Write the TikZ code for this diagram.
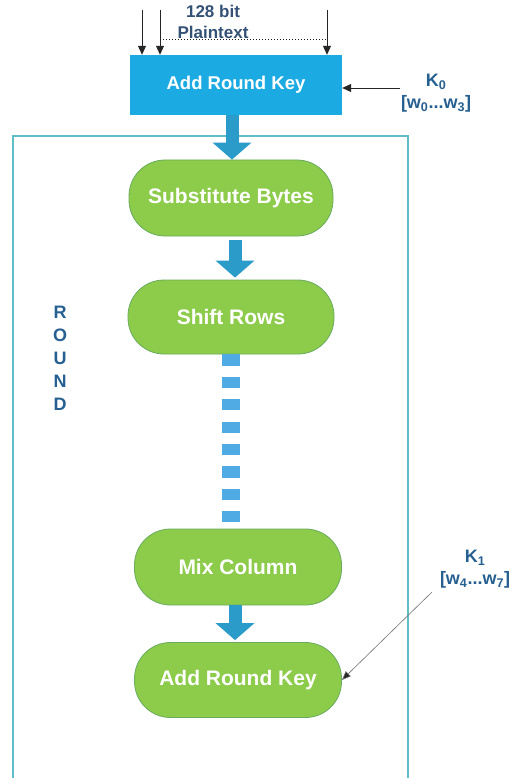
\documentclass[tikz,border=0pt]{standalone}
\usepackage{fontspec}
\setmainfont{Liberation Sans}
\usetikzlibrary{arrows.meta,calc}
\definecolor{boxblue}{RGB}{27,170,226}
\definecolor{flowgreen}{RGB}{141,203,74}
\definecolor{greenedge}{RGB}{105,172,95}
\definecolor{arrowblue}{RGB}{43,155,201}
\definecolor{dashblue}{RGB}{80,170,228}
\definecolor{frameteal}{RGB}{95,190,198}
\definecolor{labelblue}{RGB}{38,96,145}
\definecolor{plainblue}{RGB}{52,82,118}
\tikzset{
  bluebox/.style={rectangle, fill=boxblue, text=white, minimum width=212pt, minimum height=60pt,
    font=\bfseries\fontsize{18.5}{22}\selectfont, inner sep=0pt},
  stadium/.style={rectangle, rounded corners=36pt, fill=flowgreen, draw=greenedge, line width=0.8pt,
    text=white, minimum width=206pt, minimum height=76pt,
    font=\bfseries\fontsize{21}{24}\selectfont, inner sep=0pt},
  bigarrow/.style={draw=arrowblue, line width=13pt, -{Triangle[width=38pt,length=17pt]}},
  dashline/.style={draw=dashblue, line width=18pt, dash pattern=on 11.2pt off 11.2pt, line cap=butt},
  thinarrow/.style={draw=black!85, line width=0.9pt, -{Triangle[length=9pt,width=8pt]}},
  keyarrow/.style={draw=black!55, line width=0.6pt, -{Triangle[length=9pt,width=7pt,fill=black!85]}},
  keylabel/.style={text=labelblue, align=center, font=\bfseries\fontsize{18}{22}\selectfont, inner sep=0pt},
}
\begin{document}
\begin{tikzpicture}[x=1pt,y=-1pt]
\useasboundingbox (0,0) rectangle (515,778);
\fill[white] (0,0) rectangle (515,778);

% round frame
\draw[frameteal, line width=1.2pt] (13,778) -- (13,136) -- (408,136) -- (408,778);

% nodes
\node[bluebox] (ark0) at (236,85) {Add Round Key};
\node[stadium, minimum width=204pt] (sb) at (231,198) {Substitute Bytes};
\node[stadium, minimum height=74pt] (sr) at (231,317) {Shift Rows};
\node[stadium, minimum width=207pt] (mc) at (238,567) {Mix Column};
\node[stadium, minimum width=207pt, minimum height=75pt] (ark1) at (238,680) {Add Round Key};

% labels
\node[text=plainblue, align=center, font=\bfseries\fontsize{17}{21}\selectfont, inner sep=0pt] (pt) at (213,22) {128 bit\\Plaintext};
\node[keylabel] (k0) at (436,93) {K\textsubscript{0}\\{}[w\textsubscript{0}...w\textsubscript{3}]};
\node[keylabel] (k1) at (475,569) {K\textsubscript{1}\\{}[w\textsubscript{4}...w\textsubscript{7}]};
\node[text=labelblue, align=center, font=\bfseries\fontsize{18}{23}\selectfont, inner sep=0pt] (rnd) at (60,358) {R\\O\\U\\N\\D};

% plaintext inputs
\coordinate (in1) at (142,10);
\coordinate (in2) at (160,10);
\coordinate (in3) at (327,10);
\coordinate (dl) at (160,40);
\coordinate (dr) at (327,40);
\draw[thinarrow] (in1) -- (in1 |- ark0.north);
\draw[thinarrow] (in2) -- (in2 |- ark0.north);
\draw[thinarrow] (in3) -- (in3 |- ark0.north);
\draw[black!90, line width=1pt, dotted] (dl) -- (dr);

% key arrows
\coordinate (k0in) at (400,88);
\draw[thinarrow] (k0in) -- (k0in -| ark0.east);
\coordinate (k1in) at (432,592);
\draw[keyarrow] (k1in) -- (ark1.east);

% flow arrows
\draw[bigarrow] ([xshift=-4pt]ark0.south) -- ([xshift=1pt]sb.north);
\draw[bigarrow] ([xshift=4pt,yshift=-4pt]sb.south) -- ([xshift=4pt,yshift=2pt]sr.north);
\draw[dashline] (sr.south) -- (sr.south |- mc.north);
\draw[bigarrow] ([xshift=-3pt]mc.south) -- ([xshift=-3pt,yshift=2pt]ark1.north);
\end{tikzpicture}
\end{document}
